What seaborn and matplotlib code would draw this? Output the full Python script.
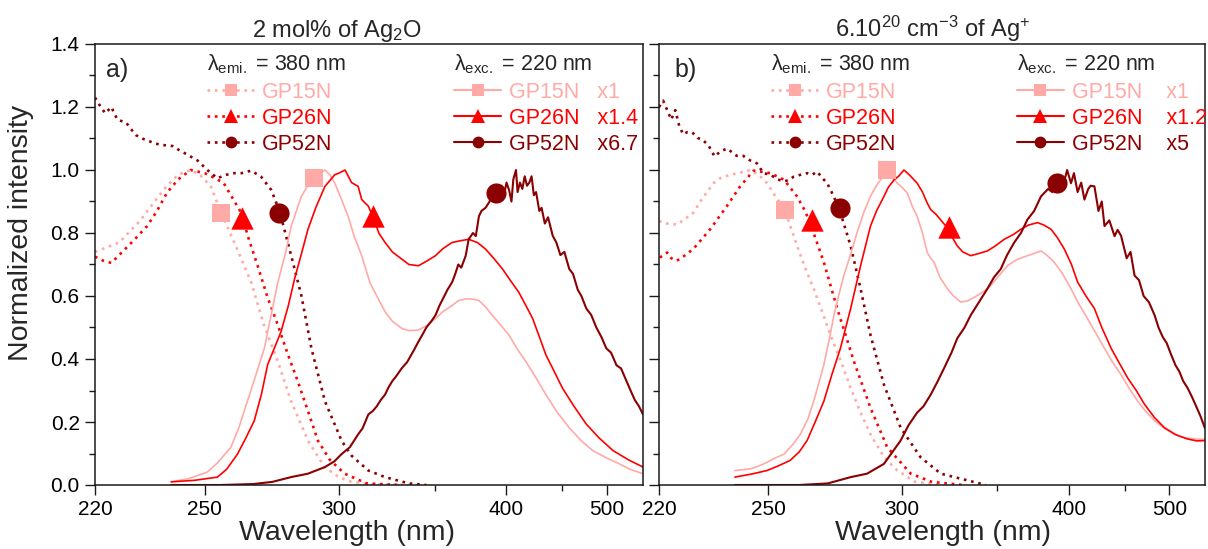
import numpy as np
import matplotlib
matplotlib.use("Agg")
import matplotlib.pyplot as plt
import seaborn as sns
from matplotlib.lines import Line2D
from matplotlib.ticker import FixedLocator, FixedFormatter, MultipleLocator, NullFormatter

sns.set_theme(style="ticks")
plt.rcParams["font.family"] = ["Liberation Sans", "DejaVu Sans"]
plt.rcParams["mathtext.fontset"] = "custom"
plt.rcParams["mathtext.rm"] = "Liberation Sans"
plt.rcParams["mathtext.it"] = "Liberation Sans:italic"
plt.rcParams["mathtext.bf"] = "Liberation Sans:bold"

# ---------------- data ----------------
SAMPLES = ["GP15N", "GP26N", "GP52N"]
COLORS = ["#FFAAA6", "#FF0000", "#8B0000"]
MARKERS = ["s", "^", "o"]
MULT_A = ["x1", "x1.4", "x6.7"]
MULT_B = ["x1", "x1.2", "x5"]
X_TICKS = [220, 250, 300, 400, 500]
X_TICK_LABELS = ["220", "250", "300", "400", "500"]
X_MINOR = [350, 450]

# panel a) excitation spectra (lambda_emi = 380 nm), dotted
A_EXC_WL_15 = [220, 222, 226, 231.5, 235, 238.8, 242, 245.7, 248.5, 251.9, 255.2, 260, 265.3, 269.9, 275, 280, 286.8, 293.7, 300, 305.8, 315, 340]
A_EXC_15 = [0.74, 0.75, 0.77, 0.84, 0.895, 0.95, 0.985, 1.0, 0.985, 0.948, 0.865, 0.76, 0.644, 0.507, 0.392, 0.267, 0.141, 0.057, 0.025, 0.01, 0.002, 0.0]
A_EXC_WL_26 = [220, 222, 224, 227, 230, 233.3, 236, 238.8, 242, 245.7, 250, 253, 256, 259, 261.8, 264.5, 267.6, 271, 275, 279, 282.7, 287, 290.9, 296, 302.6, 313, 330]
A_EXC_26 = [0.725, 0.712, 0.705, 0.743, 0.78, 0.822, 0.87, 0.928, 0.97, 1.0, 0.99, 0.975, 0.959, 0.91, 0.865, 0.78, 0.696, 0.6, 0.507, 0.41, 0.329, 0.23, 0.141, 0.08, 0.036, 0.005, 0.0]
A_EXC_WL_52 = [220, 221.4, 222.5, 224, 225.5, 227.8, 229, 230.4, 232, 235.3, 237, 240.4, 242, 244.5, 247.8, 250.8, 254, 257, 259.5, 262, 265.3, 268.8, 272.5, 275.6, 280.1, 284.1, 288.2, 293.9, 301.2, 305.8, 313.8, 322.2, 335, 345]
A_EXC_52 = [1.23, 1.2, 1.18, 1.2, 1.16, 1.15, 1.13, 1.11, 1.1, 1.085, 1.08, 1.076, 1.065, 1.05, 1.03, 1.0, 0.974, 0.985, 0.99, 0.99, 0.998, 0.979, 0.937, 0.87, 0.728, 0.602, 0.434, 0.266, 0.141, 0.093, 0.046, 0.025, 0.005, 0.0]

# panel a) emission spectra (lambda_exc = 220 nm), solid
A_EM_WL_15 = [240, 245, 250.8, 254, 258.4, 261, 264, 267, 270, 272.5, 275, 278, 280.1, 284.1, 288.2, 291, 293.9, 296, 298.2, 301, 304.2, 307, 310.6, 314.7, 318, 322.2, 326, 331.1, 335, 340.4, 345, 350.5, 355, 361, 365, 370, 375, 379.2, 384, 389, 395, 402, 409, 416, 425, 434, 445, 457, 470, 483, 500, 516, 530, 549]
A_EM_15 = [0.01, 0.02, 0.041, 0.07, 0.12, 0.18, 0.266, 0.35, 0.434, 0.54, 0.644, 0.74, 0.822, 0.916, 0.969, 0.985, 1.0, 0.985, 0.958, 0.91, 0.853, 0.79, 0.728, 0.64, 0.6, 0.55, 0.52, 0.497, 0.49, 0.492, 0.505, 0.528, 0.55, 0.57, 0.585, 0.591, 0.59, 0.586, 0.565, 0.539, 0.51, 0.476, 0.43, 0.392, 0.34, 0.287, 0.23, 0.182, 0.14, 0.109, 0.085, 0.067, 0.05, 0.036]
A_EM_WL_26 = [240, 247, 254, 257, 260.6, 263.5, 266.4, 269, 271.2, 276.2, 279, 281.4, 284, 286.8, 290, 293.9, 298.2, 300, 302.8, 305.8, 308.9, 310.6, 313.8, 316.2, 319, 322.2, 326, 331.1, 335, 340.4, 345, 350.5, 355, 361, 366, 372, 378, 384, 390, 396.8, 403, 410, 416, 422, 428, 434, 442, 450, 462, 475.5, 490, 507.6, 528, 549]
A_EM_26 = [0.01, 0.015, 0.025, 0.05, 0.098, 0.15, 0.204, 0.29, 0.382, 0.487, 0.57, 0.654, 0.73, 0.812, 0.88, 0.948, 0.985, 0.99, 1.0, 0.96, 0.948, 0.906, 0.885, 0.85, 0.8, 0.77, 0.74, 0.717, 0.70, 0.696, 0.71, 0.728, 0.75, 0.77, 0.775, 0.78, 0.77, 0.749, 0.72, 0.686, 0.65, 0.612, 0.57, 0.528, 0.47, 0.413, 0.36, 0.308, 0.25, 0.193, 0.15, 0.109, 0.08, 0.057]
A_EM_WL_52 = [240, 255, 266, 273, 280, 286.8, 293.9, 298, 301.2, 305, 308.9, 311, 313.8, 316, 318, 320, 322.2, 324, 326, 328, 331.1, 334, 336, 338, 340.4, 343, 345, 348, 350.5, 353, 355, 358, 361, 363, 365, 367, 370, 372, 375, 377, 379.2, 381, 384, 387, 389, 391.7, 394, 396, 398, 400, 402, 404, 405.5, 407.7, 409, 411, 413, 415, 417, 419, 421, 423, 425, 427.9, 430, 433, 436, 440.5, 444, 448, 452, 457, 461, 466, 470, 475.5, 481, 487, 493, 499, 505, 512, 518, 525.5, 531, 537, 543, 549]
A_EM_52 = [0.0, 0.0, 0.003, 0.01, 0.025, 0.036, 0.057, 0.075, 0.098, 0.12, 0.161, 0.18, 0.224, 0.235, 0.25, 0.27, 0.287, 0.31, 0.33, 0.345, 0.371, 0.39, 0.41, 0.43, 0.455, 0.48, 0.5, 0.52, 0.539, 0.57, 0.59, 0.62, 0.644, 0.67, 0.7, 0.69, 0.728, 0.78, 0.8, 0.79, 0.853, 0.87, 0.88, 0.9, 0.92, 0.93, 0.94, 0.95, 0.92, 0.96, 0.937, 0.9, 0.97, 1.0, 0.93, 0.96, 0.94, 0.98, 0.95, 0.96, 0.98, 0.92, 0.93, 0.87, 0.88, 0.83, 0.85, 0.791, 0.77, 0.73, 0.74, 0.686, 0.67, 0.62, 0.6, 0.56, 0.54, 0.5, 0.47, 0.434, 0.42, 0.38, 0.37, 0.329, 0.3, 0.27, 0.25, 0.224]

# panel b) excitation spectra, dotted
B_EXC_WL_15 = [220, 222, 224.4, 226, 228.6, 231, 234, 236, 238.7, 241, 244.5, 247, 249.6, 252, 255.2, 259.3, 262, 265, 268, 271, 275, 278.6, 282.5, 286.5, 292, 297.9, 306, 320]
B_EXC_15 = [0.838, 0.83, 0.827, 0.84, 0.864, 0.91, 0.958, 0.975, 0.985, 0.99, 1.0, 0.985, 0.958, 0.92, 0.874, 0.759, 0.69, 0.623, 0.55, 0.476, 0.39, 0.308, 0.23, 0.161, 0.09, 0.046, 0.01, 0.0]
B_EXC_WL_26 = [220.2, 222, 223, 224.4, 226, 228.6, 233.1, 237.7, 241.5, 245.5, 250.6, 255, 259.3, 262, 264.2, 268.6, 273.5, 279.9, 286.5, 293.5, 304, 314, 330]
B_EXC_26 = [0.722, 0.738, 0.72, 0.712, 0.725, 0.749, 0.812, 0.885, 0.948, 0.998, 0.99, 0.969, 0.916, 0.87, 0.82, 0.707, 0.56, 0.392, 0.245, 0.12, 0.036, 0.01, 0.0]
B_EXC_WL_52 = [220, 221, 222, 223, 224, 225, 226, 227, 228.3, 229.7, 231, 232.6, 234.3, 236, 237.8, 240.5, 242.4, 244.5, 246.5, 248.5, 250.6, 253, 255, 256.5, 258.2, 260.5, 262.7, 264.5, 266.2, 268, 269.8, 272, 274.5, 278.6, 282.5, 286.5, 292.1, 299.4, 308.6, 318.5, 329, 343]
B_EXC_52 = [1.2, 1.22, 1.19, 1.16, 1.19, 1.14, 1.113, 1.12, 1.12, 1.102, 1.096, 1.079, 1.043, 1.06, 1.068, 1.045, 1.045, 1.03, 1.021, 0.99, 0.985, 0.97, 0.964, 0.968, 0.979, 0.985, 0.99, 0.985, 0.995, 0.975, 0.958, 0.92, 0.87, 0.759, 0.623, 0.476, 0.319, 0.182, 0.088, 0.036, 0.02, 0.0]

# panel b) emission spectra, solid
B_EM_WL_15 = [240, 244.5, 247, 249.6, 252, 255, 258, 260.4, 263, 265, 267, 268.6, 270.5, 272.3, 274, 276, 278.5, 281.1, 284, 286.5, 288.5, 290.7, 292.5, 294.5, 296, 297.9, 300, 302.4, 305, 307, 309.5, 311.8, 313.5, 315.2, 318, 321.9, 325, 329, 333, 338.2, 342, 346, 351, 356.2, 362, 369.4, 374, 378.8, 383, 388.6, 395, 401.6, 408, 415.4, 423, 430.5, 438, 446.4, 455, 463.6, 472, 482.4, 494, 506.8, 520, 533.9, 549]
B_EM_15 = [0.046, 0.051, 0.06, 0.072, 0.085, 0.098, 0.13, 0.161, 0.21, 0.266, 0.33, 0.382, 0.46, 0.539, 0.6, 0.665, 0.73, 0.801, 0.87, 0.916, 0.945, 0.969, 0.985, 1.0, 0.975, 0.958, 0.945, 0.927, 0.88, 0.853, 0.8, 0.738, 0.72, 0.707, 0.66, 0.623, 0.6, 0.581, 0.585, 0.602, 0.615, 0.633, 0.665, 0.696, 0.715, 0.728, 0.735, 0.743, 0.73, 0.707, 0.67, 0.623, 0.575, 0.528, 0.48, 0.434, 0.39, 0.35, 0.305, 0.266, 0.235, 0.204, 0.18, 0.161, 0.15, 0.146, 0.145]
B_EM_WL_26 = [240, 245, 249.6, 253, 257, 260, 262.7, 265.5, 268.6, 271.5, 274.7, 278.6, 282.5, 286.5, 289, 292.1, 294, 296.5, 298.5, 300.9, 302.5, 304, 307, 309.5, 311.8, 313.5, 316, 318, 320, 322.8, 325, 327.1, 330, 334.4, 339, 344, 349, 354.2, 360, 365, 370, 376.4, 381, 386.1, 391, 396.3, 402, 407, 414, 421.4, 428, 436.7, 445, 453, 462, 471, 482, 494, 508, 524, 537, 549]
B_EM_26 = [0.025, 0.035, 0.046, 0.06, 0.078, 0.105, 0.141, 0.2, 0.266, 0.35, 0.434, 0.56, 0.696, 0.822, 0.87, 0.916, 0.945, 0.969, 0.98, 1.0, 0.99, 0.98, 0.958, 0.93, 0.895, 0.874, 0.86, 0.845, 0.83, 0.81, 0.78, 0.759, 0.74, 0.728, 0.735, 0.743, 0.76, 0.78, 0.795, 0.812, 0.825, 0.833, 0.825, 0.812, 0.785, 0.749, 0.7, 0.644, 0.6, 0.56, 0.5, 0.434, 0.385, 0.34, 0.3, 0.256, 0.215, 0.182, 0.16, 0.146, 0.14, 0.141]
B_EM_WL_52 = [240, 260, 270, 278.6, 285.1, 292.1, 299.4, 303, 307, 310, 313.5, 317, 320.2, 324, 327.1, 331, 334.4, 339, 344, 348, 352.1, 356, 360.6, 365, 369.4, 374, 378.8, 384, 387, 391, 394, 396, 398.5, 401.6, 404, 407, 410, 412.7, 416, 418, 421.4, 425, 428, 430.5, 435, 440, 443, 446.4, 452, 456, 460.2, 465, 470, 476, 482.4, 487, 492, 497, 502.5, 508, 513, 518, 524, 530, 536, 542, 549]
B_EM_52 = [0.0, 0.0, 0.005, 0.025, 0.036, 0.067, 0.141, 0.19, 0.23, 0.25, 0.287, 0.33, 0.371, 0.42, 0.466, 0.5, 0.539, 0.58, 0.623, 0.66, 0.686, 0.73, 0.77, 0.8, 0.843, 0.87, 0.916, 0.94, 0.93, 0.958, 0.95, 0.96, 1.0, 0.958, 0.99, 0.93, 0.96, 0.906, 0.94, 0.95, 0.948, 0.87, 0.9, 0.822, 0.84, 0.79, 0.81, 0.791, 0.72, 0.74, 0.665, 0.65, 0.6, 0.58, 0.539, 0.5, 0.47, 0.45, 0.413, 0.38, 0.36, 0.33, 0.308, 0.28, 0.25, 0.22, 0.18]

# symbols placed on the curves
MARK_A_EXC_WL = [255.2, 262.3, 275.6]
MARK_A_EXC = [0.865, 0.848, 0.864]
MARK_A_EM_WL = [289.2, 316.2, 391.7]
MARK_A_EM = [0.974, 0.855, 0.927]
MARK_B_EXC_WL = [255.3, 264.3, 274.5]
MARK_B_EXC = [0.873, 0.842, 0.88]
MARK_B_EM_WL = [293.5, 322.8, 391.0]
MARK_B_EM = [1.0, 0.82, 0.958]

# ---------------- styling ----------------
DOT = (0, (1.0, 1.8))
MARK_SIZE = {"s": 170, "^": 260, "o": 210}
LEG_MS = {"s": 8, "^": 9.5, "o": 8.5}
EDGE = "#1a1a1a"


def fwd(x):
    x = np.asarray(x, dtype=float)
    with np.errstate(divide="ignore", invalid="ignore"):
        return -1.0 / x


def inv(y):
    y = np.asarray(y, dtype=float)
    with np.errstate(divide="ignore", invalid="ignore"):
        return -1.0 / y


fig = plt.figure(figsize=(12.08, 5.49), dpi=100)
ax_a = fig.add_axes([95 / 1208, 64 / 549, 548 / 1208, 441 / 549])
ax_b = fig.add_axes([659 / 1208, 64 / 549, 546 / 1208, 441 / 549])

panels = [
    dict(ax=ax_a,
         exc=[(A_EXC_WL_15, A_EXC_15), (A_EXC_WL_26, A_EXC_26), (A_EXC_WL_52, A_EXC_52)],
         em=[(A_EM_WL_15, A_EM_15), (A_EM_WL_26, A_EM_26), (A_EM_WL_52, A_EM_52)],
         mexc=(MARK_A_EXC_WL, MARK_A_EXC), mem=(MARK_A_EM_WL, MARK_A_EM),
         mult=MULT_A, gap="   ", letter="a)", letter_x=0.02,
         title=r"2 mol% of Ag$_{2}$O", title_x=0.442, xlabel_x=0.46, ylabels=True),
    dict(ax=ax_b,
         exc=[(B_EXC_WL_15, B_EXC_15), (B_EXC_WL_26, B_EXC_26), (B_EXC_WL_52, B_EXC_52)],
         em=[(B_EM_WL_15, B_EM_15), (B_EM_WL_26, B_EM_26), (B_EM_WL_52, B_EM_52)],
         mexc=(MARK_B_EXC_WL, MARK_B_EXC), mem=(MARK_B_EM_WL, MARK_B_EM),
         mult=MULT_B, gap="    ", letter="b)", letter_x=0.029,
         title=r"6.10$^{20}$ cm$^{-3}$ of Ag$^{+}$", title_x=0.502, xlabel_x=0.52, ylabels=False),
]

for p in panels:
    ax = p["ax"]
    ax.set_xscale("function", functions=(fwd, inv))
    for i in range(3):
        wl, v = p["exc"][i]
        sns.lineplot(x=wl, y=v, ax=ax, color=COLORS[i], linewidth=1.9,
                     linestyle=DOT, sort=False, estimator=None, zorder=2)
    for i in range(3):
        wl, v = p["em"][i]
        sns.lineplot(x=wl, y=v, ax=ax, color=COLORS[i],
                     linewidth=1.5 if i == 2 else 1.2, sort=False, estimator=None, zorder=2)
    for (mwl, mv) in (p["mexc"], p["mem"]):
        for i in range(3):
            sns.scatterplot(x=[mwl[i]], y=[mv[i]], ax=ax, marker=MARKERS[i],
                            s=MARK_SIZE[MARKERS[i]], color=COLORS[i], linewidth=0, zorder=3)

    ax.set_xlim(220, 549)
    ax.set_ylim(0, 1.4)
    ax.xaxis.set_major_locator(FixedLocator(X_TICKS))
    ax.xaxis.set_major_formatter(FixedFormatter(X_TICK_LABELS))
    ax.xaxis.set_minor_locator(FixedLocator(X_MINOR))
    ax.xaxis.set_minor_formatter(NullFormatter())
    ax.yaxis.set_major_locator(MultipleLocator(0.2))
    ax.yaxis.set_minor_locator(MultipleLocator(0.1))
    ax.tick_params(axis="both", which="major", direction="out", length=7, width=1.0,
                   labelsize=15, color=EDGE, labelcolor="black", pad=4)
    ax.tick_params(axis="both", which="minor", direction="out", length=4, width=1.0, color=EDGE)
    ax.tick_params(top=False, right=False)
    if not p["ylabels"]:
        ax.tick_params(axis="y", labelleft=False)
    for s in ax.spines.values():
        s.set_visible(True)
        s.set_linewidth(1.1)
        s.set_color(EDGE)
    ax.grid(False)

    # labels
    ax.set_xlabel("Wavelength (nm)", fontsize=20.5)
    ax.xaxis.label.set_va("baseline")
    ax.xaxis.set_label_coords(p["xlabel_x"], -0.124)
    if p["ylabels"]:
        ax.set_ylabel("Normalized intensity", fontsize=20.5)
        ax.yaxis.set_label_coords(-0.111, 0.572)
    else:
        ax.set_ylabel("")

    ax.text(p["title_x"], 1.015, p["title"], transform=ax.transAxes,
            ha="center", va="baseline", fontsize=17)
    ax.text(p["letter_x"], 0.925, p["letter"], transform=ax.transAxes,
            ha="left", va="baseline", fontsize=18)

    # legends
    exc_handles = [Line2D([], [], color=COLORS[i], lw=1.9, ls=DOT, marker=MARKERS[i],
                          ms=LEG_MS[MARKERS[i]], mew=0) for i in range(3)]
    em_handles = [Line2D([], [], color=COLORS[i], lw=1.5, ls="-", marker=MARKERS[i],
                         ms=LEG_MS[MARKERS[i]], mew=0) for i in range(3)]
    common = dict(loc="upper left", frameon=False, fontsize=15.5, title_fontsize=15.5,
                  handlelength=2.2, handletextpad=0.35, labelspacing=0.24,
                  borderpad=0, borderaxespad=0, labelcolor="linecolor",
                  alignment="left", numpoints=1)
    leg1 = ax.legend(exc_handles, SAMPLES, title=r"λ$_{\mathrm{emi.}}$ = 380 nm",
                     bbox_to_anchor=(0.205, 0.98), **common)
    ax.add_artist(leg1)
    em_labels = [f"{SAMPLES[i]}{p['gap']}{p['mult'][i]}" for i in range(3)]
    ax.legend(em_handles, em_labels, title=r"λ$_{\mathrm{exc.}}$ = 220 nm",
              bbox_to_anchor=(0.655, 0.98), **common)

fig.savefig("out.png", dpi=100)
